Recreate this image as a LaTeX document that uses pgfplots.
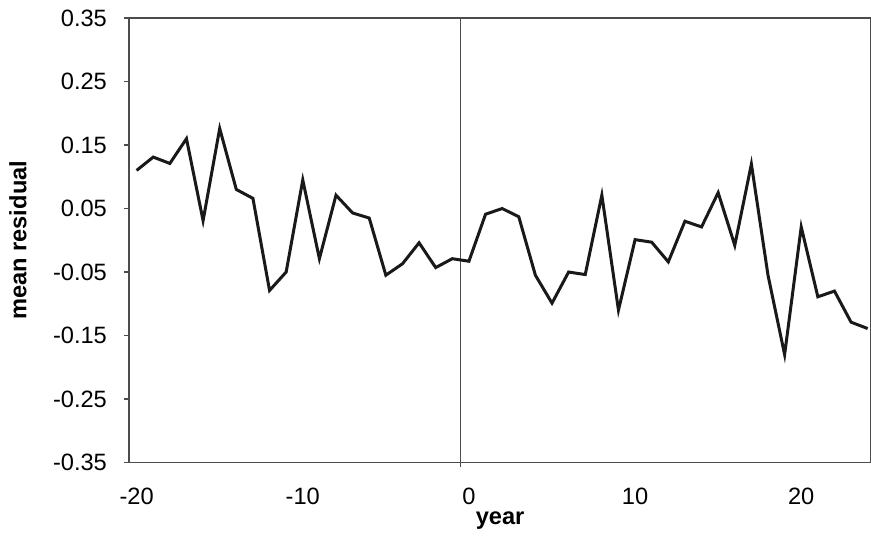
\documentclass[border=0pt]{standalone}
\usepackage{pgfplots}
\pgfplotsset{compat=1.18}
\usepackage{fontspec}
\setmainfont{Liberation Sans}
\begin{document}
\fontsize{11.8}{14}\selectfont
\begin{tikzpicture}
\useasboundingbox (-64.5pt,-36.5pt) rectangle (370.5pt,231pt);
\begin{axis}[
  at={(0,0)}, anchor=south west,
  width=370.5pt, height=222pt, scale only axis,
  xmin=-20.45, xmax=24.2,
  ymin=-0.35, ymax=0.35,
  xtick={-20,-10,0,10,20},
  ytick={-0.35,-0.25,-0.15,-0.05,0.05,0.15,0.25,0.35},
  yticklabel style={/pgf/number format/fixed, /pgf/number format/fixed zerofill, /pgf/number format/precision=2, xshift=-4.5pt},
  /pgf/number format/assume math mode=true,
  x tick style={draw=none},
  y tick style={draw=black!70, line width=0.6pt},
  tick align=outside,
  major tick length=2.5pt,
  ytick pos=left,
  axis line style={draw=black!70, line width=0.8pt},
  xticklabel style={yshift=-6pt},
  xlabel={\bfseries year},
  ylabel={\bfseries mean residual},
  xlabel style={at={(axis description cs:0.5,0)}, anchor=center, yshift=-29pt},
  ylabel style={at={(axis description cs:0,0.5)}, anchor=center, rotate=0, yshift=55.5pt},
  clip=false,
]
\addplot[black!40!gray, line width=0.5pt] coordinates {(-0.5,-0.357) (-0.5,0.35)};
\addplot[black!90, line width=1.5pt, line join=miter, mark=none] table {
x y
-20 0.110
-19 0.131
-18 0.121
-17 0.160
-16 0.031
-15 0.176
-14 0.080
-13 0.066
-12 -0.079
-11 -0.050
-10 0.095
-9 -0.029
-8 0.071
-7 0.043
-6 0.035
-5 -0.055
-4 -0.037
-3 -0.004
-2 -0.043
-1 -0.029
0 -0.033
1 0.041
2 0.050
3 0.037
4 -0.055
5 -0.099
6 -0.050
7 -0.054
8 0.071
9 -0.110
10 0.001
11 -0.003
12 -0.034
13 0.030
14 0.021
15 0.075
16 -0.008
17 0.120
18 -0.055
19 -0.180
20 0.021
21 -0.089
22 -0.080
23 -0.129
24 -0.139
};
\end{axis}
\end{tikzpicture}
\end{document}
